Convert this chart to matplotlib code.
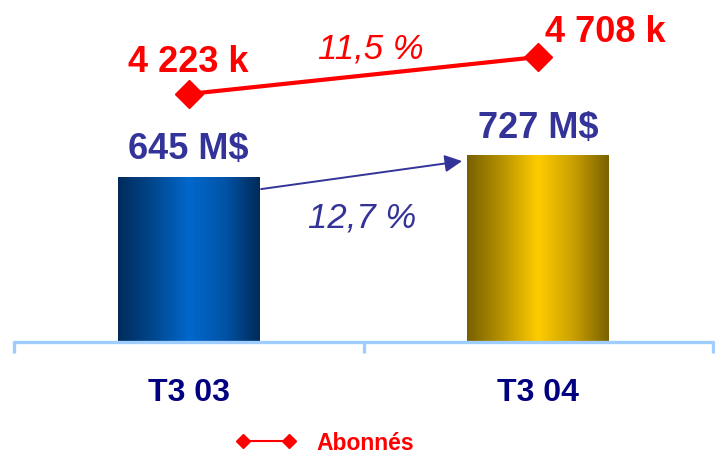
import numpy as np
import matplotlib
matplotlib.use("Agg")
import matplotlib.pyplot as plt
from matplotlib.colors import LinearSegmentedColormap
from matplotlib.lines import Line2D

# Quarterly figures
categories = ["T3 03", "T3 04"]
revenue = [645, 727]              # M$
revenue_labels = ["645 M$", "727 M$"]
subscribers = [4223, 4708]        # thousands
subscriber_labels = ["4 223 k", "4 708 k"]
revenue_growth = "12,7 %"
subscriber_growth = "11,5 %"
legend_label = "Abonnés"

plt.rcParams["font.family"] = ["Liberation Sans", "DejaVu Sans"]

fig = plt.figure(figsize=(7.15, 4.53), dpi=100)
ax = fig.add_axes([14 / 715, 111 / 453, 699 / 715, 342 / 453])
ax2 = ax.twinx()

x = np.arange(len(categories))
bar_w = 0.406

blue_cmap = LinearSegmentedColormap.from_list(
    "blue_cyl", ["#002c5c", "#00478f", "#0068cc", "#0054a8", "#002a58"])
gold_cmap = LinearSegmentedColormap.from_list(
    "gold_cyl", ["#786000", "#b89300", "#ffcc00", "#c9a000", "#7a6000"])

bars = ax.bar(x, revenue, width=bar_w, color="none", edgecolor="none", zorder=2)
grad = np.linspace(0, 1, 256).reshape(1, -1)
for rect, cmap in zip(bars, [blue_cmap, gold_cmap]):
    x0 = rect.get_x()
    im = ax.imshow(grad, cmap=cmap, aspect="auto", interpolation="bicubic",
                   extent=(x0, x0 + rect.get_width(), 0, rect.get_height()),
                   zorder=2)
    im.set_clip_path(rect)

ax.set_xlim(-0.5, 1.5)
ax.set_ylim(0, 1333)
ax2.set_ylim(972, 5455)

# Bar value labels
for xi, v, lab in zip(x, revenue, revenue_labels):
    ax.annotate(lab, xy=(xi, v), xytext=(0, 12.5), textcoords="offset points",
                ha="center", va="baseline", fontsize=26, fontweight="bold",
                color="#333399")

# Revenue growth arrow
ax.annotate("", xy=(0.782, 705), xytext=(0.207, 596),
            arrowprops=dict(arrowstyle="-|>", color="#333399", lw=1.4,
                            mutation_scale=26, shrinkA=0, shrinkB=0), zorder=3)
ax.text(0.497, 483, revenue_growth, ha="center", va="center", fontsize=25,
        style="italic", color="#333399")

# Subscriber line
ax2.plot(x, subscribers, color="#ff0000", lw=3.0, marker="D", ms=14,
         zorder=4, solid_capstyle="butt")
ax2.annotate(subscriber_labels[0], xy=(x[0], subscribers[0]), xytext=(0, 15.5),
             textcoords="offset points", ha="center", va="baseline",
             fontsize=26, fontweight="bold", color="#ff0000")
ax2.annotate(subscriber_labels[1], xy=(x[1], subscribers[1]), xytext=(48, 11),
             textcoords="offset points", ha="center", va="baseline",
             fontsize=26, fontweight="bold", color="#ff0000")
ax2.annotate(subscriber_growth, xy=(0.5, np.mean(subscribers)), xytext=(5, 19),
             textcoords="offset points", ha="center", va="center",
             fontsize=25, style="italic", color="#ff0000")

# Axis styling
for a in (ax, ax2):
    for s in ("top", "left", "right"):
        a.spines[s].set_visible(False)
ax2.spines["bottom"].set_visible(False)
ax.spines["bottom"].set_color("#9fcdfd")
ax.spines["bottom"].set_linewidth(2.4)
ax.spines["bottom"].set_capstyle("round")
ax.set_yticks([])
ax2.set_yticks([])
ax.set_xticks(x)
ax.set_xticklabels(categories, fontsize=23, fontweight="bold", color="#000080")
ax.tick_params(axis="x", which="major", length=0, pad=26)
ax.set_xticks([-0.5, 0.5, 1.5], minor=True)
ax.tick_params(axis="x", which="minor", length=8, width=2.4, color="#9fcdfd",
               direction="out")

# Legend
handle = Line2D([], [], color="#ff0000", lw=1.5, marker="D", ms=7.5)
fig.legend([handle], [legend_label], loc="center",
           bbox_to_anchor=(325 / 715, 1 - 443 / 453), frameon=False,
           numpoints=2, handlelength=2.6, handletextpad=0.9,
           prop=dict(size=16.5, weight="bold"), labelcolor="#ff0000")

fig.savefig("out.png", dpi=100)
